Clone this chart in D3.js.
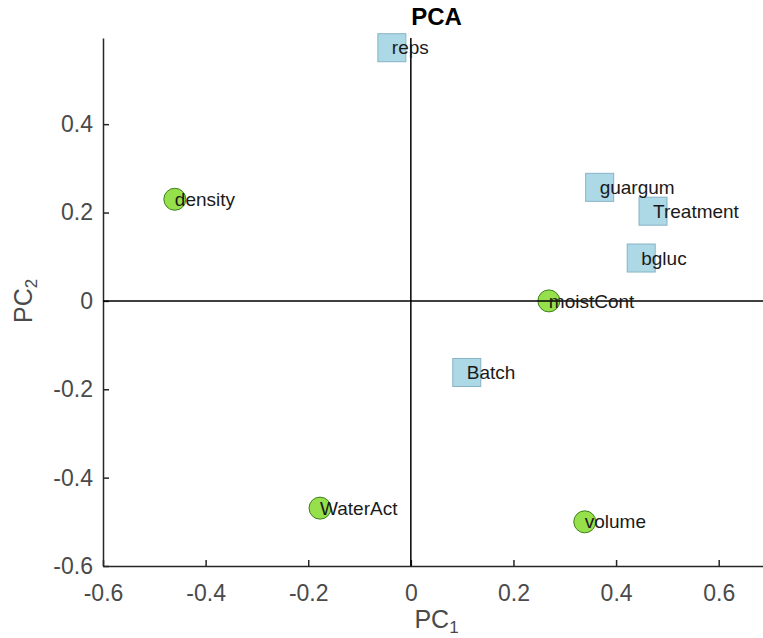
<!DOCTYPE html>
<html>
<head>
<meta charset="utf-8">
<script src="https://cdn.jsdelivr.net/npm/d3@7"></script>
<style>
  html, body { margin: 0; padding: 0; background: #fff; }
  svg { display: block; font-family: "Liberation Sans", Arial, Helvetica, sans-serif; }
</style>
</head>
<body>
<svg id="chart" width="763" height="638"></svg>
<script>
// PCA loadings: variable name, component scores and marker kind
const labels = ["reps", "density", "guargum", "Treatment", "bgluc", "moistCont", "Batch", "WaterAct", "volume"];
const pc1 = [-0.037, -0.460, 0.368, 0.472, 0.449, 0.269, 0.109, -0.177, 0.339];
const pc2 = [0.573, 0.230, 0.257, 0.203, 0.097, 0.000, -0.162, -0.469, -0.500];
const kinds = ["square", "circle", "square", "square", "square", "circle", "square", "circle", "circle"];

const xTicks = [-0.6, -0.4, -0.2, 0, 0.2, 0.4, 0.6];
const yTicks = [-0.6, -0.4, -0.2, 0, 0.2, 0.4];

const svg = d3.select("#chart");

const plotLeft = 103, plotRight = 770, plotTop = 38, plotBottom = 566;
const x = d3.scaleLinear().domain([-0.6, 0.7]).range([plotLeft, plotRight]);
const y = d3.scaleLinear().domain([-0.6, 0.595]).range([plotBottom, plotTop]);

const fmt = d => String(+d.toFixed(1));

// Axes with inward ticks
const xAxis = svg.append("g")
  .attr("transform", `translate(0,${plotBottom})`)
  .call(d3.axisBottom(x).tickValues(xTicks).tickFormat(fmt)
    .tickSizeInner(-6).tickSizeOuter(0).tickPadding(19));
const yAxis = svg.append("g")
  .attr("transform", `translate(${plotLeft},0)`)
  .call(d3.axisLeft(y).tickValues(yTicks).tickFormat(fmt)
    .tickSizeInner(-6).tickSizeOuter(0).tickPadding(10));

[xAxis, yAxis].forEach(g => {
  g.select(".domain").attr("stroke", "#262626").attr("stroke-width", 1.5);
  g.selectAll(".tick line").attr("stroke", "#262626").attr("stroke-width", 1.5);
  g.selectAll(".tick text").attr("fill", "#4a4a4a").attr("font-size", 23)
    .attr("font-family", "'Liberation Sans', Arial, sans-serif");
});

const idx = d3.range(labels.length);

// Markers
const marks = svg.append("g");
const sq = 28, r = 11;
marks.selectAll("rect")
  .data(idx.filter(i => kinds[i] === "square"))
  .join("rect")
  .attr("x", i => x(pc1[i]) - sq / 2)
  .attr("y", i => y(pc2[i]) - sq / 2)
  .attr("width", sq).attr("height", sq)
  .attr("fill", "#add8e6")
  .attr("stroke", "#86b3c6")
  .attr("stroke-width", 1);
marks.selectAll("circle")
  .data(idx.filter(i => kinds[i] === "circle"))
  .join("circle")
  .attr("cx", i => x(pc1[i]))
  .attr("cy", i => y(pc2[i]))
  .attr("r", r)
  .attr("fill", "#96e04b")
  .attr("stroke", "#3f7f1f")
  .attr("stroke-width", 1);

// Zero reference lines
svg.append("line")
  .attr("x1", x(0)).attr("x2", x(0)).attr("y1", plotTop).attr("y2", plotBottom)
  .attr("stroke", "#000").attr("stroke-width", 1.5);
svg.append("line")
  .attr("x1", plotLeft).attr("x2", plotRight).attr("y1", y(0)).attr("y2", y(0))
  .attr("stroke", "#000").attr("stroke-width", 1.5);

// Variable labels
svg.append("g").selectAll("text")
  .data(idx)
  .join("text")
  .attr("x", i => x(pc1[i]))
  .attr("y", i => y(pc2[i]))
  .attr("dy", "0.35em")
  .attr("font-size", 19)
  .attr("fill", "#1a1a1a")
  .text(i => labels[i]);

// Title
svg.append("text")
  .attr("x", (plotLeft + plotRight) / 2).attr("y", 25)
  .attr("text-anchor", "middle")
  .attr("font-size", 24).attr("font-weight", "bold").attr("fill", "#000")
  .text("PCA");

// Axis labels with subscripts
const xl = svg.append("text")
  .attr("x", (plotLeft + plotRight) / 2).attr("y", 628)
  .attr("text-anchor", "middle")
  .attr("font-size", 25).attr("fill", "#4a4a4a");
xl.append("tspan").text("PC");
xl.append("tspan").attr("font-size", 17).attr("dy", 5).text("1");

const yl = svg.append("text")
  .attr("transform", `translate(32,${y(0)}) rotate(-90)`)
  .attr("text-anchor", "middle")
  .attr("font-size", 25).attr("fill", "#4a4a4a");
yl.append("tspan").text("PC");
yl.append("tspan").attr("font-size", 17).attr("dy", 5).text("2");
</script>
</body>
</html>
